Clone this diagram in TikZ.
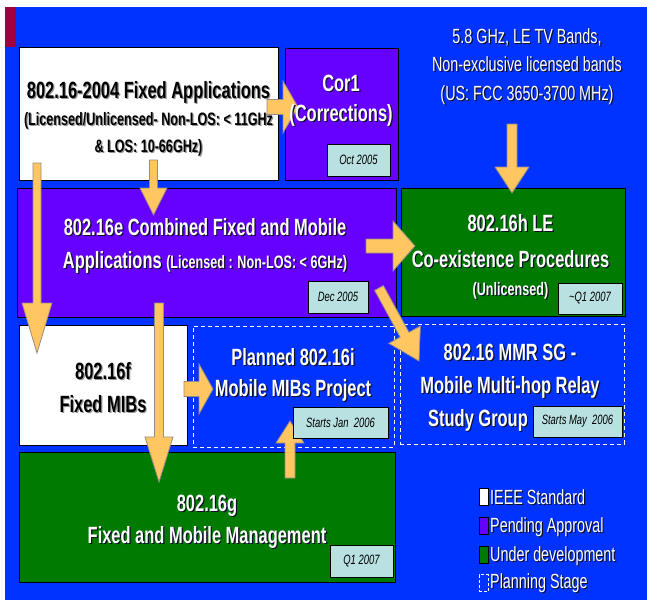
\documentclass[tikz,border=0pt]{standalone}
\usepackage{fontspec}
\setmainfont{Liberation Sans}[FakeStretch=0.7]
\usetikzlibrary{calc}
\definecolor{bgblue}{RGB}{0,51,255}
\definecolor{purp}{RGB}{102,0,255}
\definecolor{dgreen}{RGB}{0,122,0}
\definecolor{datec}{RGB}{185,225,225}
\definecolor{arrowc}{RGB}{255,198,98}
\definecolor{arrowline}{RGB}{150,140,130}
\definecolor{maroonc}{RGB}{160,0,64}
\definecolor{shadowc}{RGB}{15,15,40}
\definecolor{grayshadow}{RGB}{150,150,150}
\newcommand\txtsh[2][shadowc]{\leavevmode\rlap{\kern1.2pt\raisebox{-1.2pt}{\textcolor{#1}{#2}}}{#2}}
% block arrow: start, end, half shaft width, half head width, head length
\newcommand\blockarr[5]{%
  \coordinate (ba-h) at ($(#2)!#5!(#1)$);
  \filldraw[blockarrow] ($(#1)!#3!90:(#2)$) -- ($(ba-h)!#3!-90:(#1)$) -- ($(ba-h)!#4!-90:(#1)$)
    -- (#2) -- ($(ba-h)!#4!90:(#1)$) -- ($(ba-h)!#3!90:(#1)$) -- ($(#1)!#3!-90:(#2)$) -- cycle;}
\begin{document}
\begin{tikzpicture}[x=1pt,y=-1pt,
  box/.style={draw=black, line width=0.8pt, inner sep=0pt, anchor=north west},
  planbox/.style={draw=white, line width=0.9pt, dash pattern=on 4pt off 3pt, inner sep=0pt, anchor=north west},
  datebox/.style={draw=black, line width=0.8pt, fill=datec, inner sep=0pt, font=\itshape\fontsize{13.5}{16}\selectfont},
  wtxt/.style={align=center, inner sep=0pt, text=white},
  btxt/.style={align=center, inner sep=0pt, text=black},
  legsq/.style={draw=black, line width=0.6pt, inner sep=0pt, minimum width=9pt, minimum height=17pt},
  legtxt/.style={anchor=west, inner sep=0pt, text=white, font=\fontsize{20.5}{24}\selectfont},
  blockarrow/.style={fill=arrowc, draw=arrowline, line width=0.8pt, line join=miter}
]
\useasboundingbox (0,0) rectangle (647,600);
\fill[white] (0,0) rectangle (647,600);
\fill[bgblue] (5,7) rectangle (647,600);
\fill[maroonc] (5,7) rectangle (16,47);

% boxes
\node[box, fill=white, minimum width=259pt, minimum height=133pt] (b2004) at (19,47) {};
\node[box, fill=purp, minimum width=113pt, minimum height=132pt] (bcor) at (285,48) {};
\node[box, fill=purp, minimum width=379pt, minimum height=129pt] (b16e) at (17,188) {};
\node[box, fill=dgreen, minimum width=224pt, minimum height=128pt] (b16h) at (401,188) {};
\node[box, fill=white, minimum width=168pt, minimum height=120pt] (b16f) at (19,325) {};
\node[planbox, minimum width=201pt, minimum height=121pt] (b16i) at (193,326) {};
\node[planbox, minimum width=224pt, minimum height=120pt] (bmmr) at (400,324) {};
\node[box, fill=dgreen, minimum width=376pt, minimum height=130pt] (b16g) at (19,452) {};

% arrow end points
\coordinate (a1s) at (267,107); \coordinate (a1e) at (298,107);
\coordinate (a2s) at (37,163);  \coordinate (a2e) at (37,353);
\coordinate (a3s) at (153.5,160); \coordinate (a3e) at (153.5,215);
\coordinate (a4s) at (366,246); \coordinate (a4e) at (415,246);
\coordinate (a5s) at (379,288); \coordinate (a5e) at (419,361);
\coordinate (a6s) at (159,303); \coordinate (a6e) at (159,482);
\coordinate (a7s) at (184,389); \coordinate (a7e) at (213,389);
\coordinate (a8s) at (290,478); \coordinate (a8e) at (290,421);
\coordinate (a9s) at (512,124); \coordinate (a9e) at (512,193);

\blockarr{a1s}{a1e}{7.5pt}{26pt}{15pt}
\blockarr{a2s}{a2e}{4pt}{15pt}{50pt}
\blockarr{a3s}{a3e}{4pt}{13.5pt}{27pt}
\blockarr{a4s}{a4e}{7pt}{25pt}{22pt}
\blockarr{a5s}{a5e}{5pt}{18pt}{30pt}
\blockarr{a6s}{a6e}{4.5pt}{14pt}{45pt}
\blockarr{a7s}{a7e}{7.5pt}{25pt}{14pt}
\blockarr{a8s}{a8e}{5pt}{14pt}{22pt}
\blockarr{a9s}{a9e}{5pt}{17pt}{26pt}

% date boxes
\node[datebox, minimum width=63pt, minimum height=32pt] (d1) at (358.5,160) {Oct 2005};
\node[datebox, minimum width=60pt, minimum height=32pt] (d2) at (338,297) {Dec 2005};
\node[datebox, minimum width=64pt, minimum height=31pt] (d3) at (590,298.5) {\textasciitilde Q1 2007};
\node[datebox, minimum width=95pt, minimum height=31pt] (d4) at (340.5,422.5) {Starts Jan~~2006};
\node[datebox, minimum width=89pt, minimum height=31pt] (d5) at (577.5,421.5) {Starts May~~2006};
\node[datebox, minimum width=63pt, minimum height=32pt] (d6) at (361.5,561) {Q1 2007};

% texts
\node[btxt, font=\bfseries\fontsize{18}{27}\selectfont] (t2004) at (148.5,119)
  {\txtsh[grayshadow]{\fontsize{23.5}{27}\selectfont 802.16-2004 Fixed Applications}\\
   \txtsh[grayshadow]{(Licensed/Unlicensed- Non-LOS: < 11GHz}\\
   \txtsh[grayshadow]{\& LOS: 10-66GHz)}};
\node[wtxt, font=\bfseries\fontsize{23.5}{30}\selectfont] (tcor) at (341,101)
  {\txtsh{Cor1}\\ \txtsh{(Corrections)}};
\node[wtxt, font=\fontsize{20.5}{28.5}\selectfont] (tband) at (527,67)
  {\txtsh{5.8 GHz, LE TV Bands,}\\ \txtsh{Non-exclusive licensed bands}\\ \txtsh{(US: FCC 3650-3700 MHz)}};
\node[wtxt, font=\bfseries\fontsize{23.5}{33}\selectfont] (t16e) at (205,246.5)
  {\txtsh{802.16e Combined Fixed and Mobile}\\
   \txtsh{Applications {\fontsize{18}{33}\selectfont (Licensed : Non-LOS: < 6GHz)}}};
\node[wtxt, font=\bfseries\fontsize{23.5}{36}\selectfont] (t16h) at (510.5,257)
  {\txtsh{802.16h LE}\\ \txtsh{Co-existence Procedures}\\[-8pt]
   \txtsh{\fontsize{18}{28}\selectfont (Unlicensed)}};
\node[btxt, font=\bfseries\fontsize{23.5}{33}\selectfont] (t16f) at (103,388)
  {\txtsh[grayshadow]{802.16f}\\ \txtsh[grayshadow]{Fixed MIBs}};
\node[wtxt, font=\bfseries\fontsize{23.5}{31}\selectfont] (t16i) at (293,375.5)
  {\txtsh{Planned 802.16i}\\ \txtsh{Mobile MIBs Project}};
\node[wtxt, font=\bfseries\fontsize{23.5}{33}\selectfont] (tmmr) at (510,388.5)
  {\txtsh{802.16 MMR SG -}\\ \txtsh{Mobile Multi-hop Relay}\\ \txtsh{Study Group}\hspace*{64pt}};
\node[wtxt, font=\bfseries\fontsize{23.5}{32}\selectfont] (t16g) at (207,522)
  {\txtsh{802.16g}\\ \txtsh{Fixed and Mobile Management}};

% legend
\node[legsq, fill=white] (l1) at (483.5,497) {};
\node[legsq, fill=purp] (l2) at (483.5,526) {};
\node[legsq, fill=dgreen] (l3) at (483.5,555) {};
\node[legsq, draw=white, dash pattern=on 3pt off 2pt] (l4) at (483.5,583) {};
\node[legtxt] (lt1) at (490,498) {\txtsh{IEEE Standard}};
\node[legtxt] (lt2) at (490,527.5) {\txtsh{Pending Approval}};
\node[legtxt] (lt3) at (490,557) {\txtsh{Under development}};
\node[legtxt] (lt4) at (490,584) {\txtsh{Planning Stage}};
\end{tikzpicture}
\end{document}
